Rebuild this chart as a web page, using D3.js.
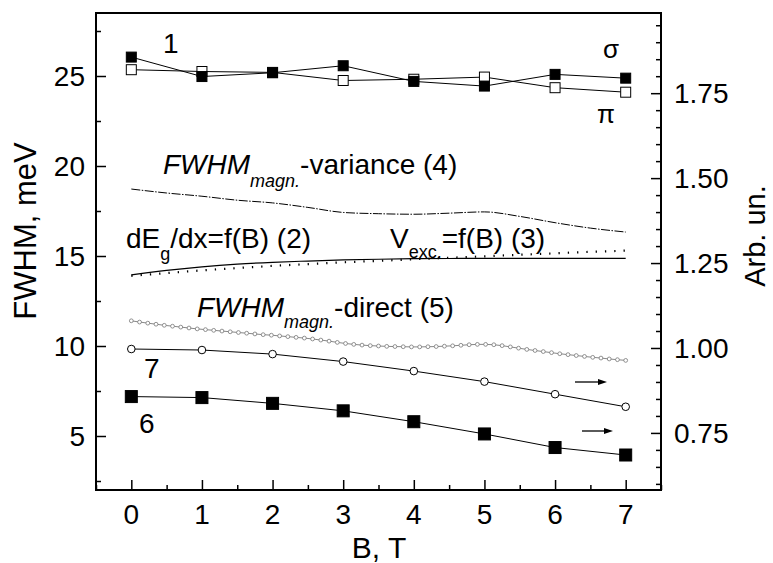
<!DOCTYPE html>
<html><head><meta charset="utf-8">
<script src="https://cdn.jsdelivr.net/npm/d3@7"></script>
<style>
body{margin:0;background:#fff;}
svg text{font-family:"Liberation Sans",Arial,sans-serif;fill:#000;}
</style></head>
<body><svg id="c" width="773" height="563"></svg>
<script>
// ---- data ----
const B = [0,1,2,3,4,5,6,7];
const sigma1 = [26.05,24.97,25.18,25.57,24.70,24.44,25.09,24.88];
const pi1    = [25.35,25.25,25.20,24.75,24.82,24.94,24.35,24.10];
const s7 = [0.997,0.994,0.982,0.960,0.932,0.901,0.864,0.827];   // right axis
const s6 = [0.857,0.854,0.837,0.815,0.783,0.747,0.707,0.685];   // right axis
const Bhalf = [0,0.5,1,1.5,2,2.5,3,3.5,4,4.5,5,5.5,6,6.5,7];
const s4 = [18.72,18.50,18.32,18.10,17.95,17.70,17.42,17.35,17.32,17.38,17.45,17.20,16.85,16.55,16.33];
const s2 = [13.95,14.20,14.40,14.55,14.65,14.72,14.78,14.82,14.85,14.86,14.87,14.87,14.87,14.87,14.87];
const B3 = [0,0.5,1,1.5,2,2.5,3,3.5,4,4.5,5,5.5,6,6.5,7,7.1];
const s3 = [13.90,14.05,14.20,14.33,14.45,14.55,14.65,14.73,14.82,14.90,14.98,15.07,15.15,15.23,15.30,15.32];
const s5 = [11.40,11.33,11.27,11.21,11.15,11.10,11.05,11.00,10.95,10.91,10.87,10.83,10.79,10.75,10.71,10.67,
10.63,10.60,10.56,10.52,10.48,10.44,10.39,10.33,10.27,10.20,10.14,10.09,10.05,10.02,10.00,9.98,9.97,9.96,9.95,
9.95,9.96,9.97,9.99,10.01,10.04,10.07,10.09,10.09,10.07,10.02,9.95,9.88,9.81,9.75,9.69,9.63,9.57,9.52,9.47,
9.42,9.37,9.33,9.28,9.24,9.20];
const B5 = s5.map((_,i)=>+(i*7/60).toFixed(4));
const leftTicks = [5,10,15,20,25];
const rightTicks = [0.75,1.00,1.25,1.50,1.75];
const xTicks = [0,1,2,3,4,5,6,7];

// ---- layout ----
const L=96,R=661,T=13,Bm=490;
const svg=d3.select("#c");
const x=d3.scaleLinear().domain([-0.5,7.5]).range([L,R]);
const y=d3.scaleLinear().domain([2,28.5]).range([Bm,T]);
const y2=d3.scaleLinear().domain([0.582,1.986]).range([Bm,T]);
const FS=28;

// frame
svg.append("rect").attr("x",L).attr("y",T).attr("width",R-L).attr("height",Bm-T)
  .attr("fill","none").attr("stroke","#000").attr("stroke-width",2);

// axes (ticks inside)
const gx=svg.append("g").attr("transform",`translate(0,${Bm})`)
  .call(d3.axisBottom(x).tickValues(d3.range(-0.5,7.51,0.5)).tickSize(-5).tickFormat(""));
gx.selectAll(".tick line").filter(d=>Number.isInteger(d)).attr("y2",-10);
const gy=svg.append("g").attr("transform",`translate(${L},0)`)
  .call(d3.axisLeft(y).tickValues(d3.range(2.5,28.5,2.5)).tickSize(-5).tickFormat(""));
gy.selectAll(".tick line").filter(d=>d%5===0).attr("x2",10);
const gy2=svg.append("g").attr("transform",`translate(${R},0)`)
  .call(d3.axisRight(y2).tickValues(d3.range(0.6,1.96,0.05).map(v=>+v.toFixed(2))).tickSize(-5).tickFormat(""));
gy2.selectAll(".tick line").filter(d=>Math.abs(d*4-Math.round(d*4))<1e-6).attr("x2",-10);
[gx,gy,gy2].forEach(g=>{g.select(".domain").remove();g.selectAll("line").attr("stroke","#000").attr("stroke-width",1.5);});

// tick labels
svg.selectAll(".xl").data(xTicks).enter().append("text").attr("x",d=>x(d)).attr("y",Bm+34)
  .attr("text-anchor","middle").attr("font-size",FS).text(d=>d);
svg.selectAll(".yl").data(leftTicks).enter().append("text").attr("x",L-11).attr("y",d=>y(d)+10)
  .attr("text-anchor","end").attr("font-size",FS).text(d=>d);
svg.selectAll(".y2l").data(rightTicks).enter().append("text").attr("x",R+13).attr("y",d=>y2(d)+10)
  .attr("text-anchor","start").attr("font-size",FS).text(d=>d.toFixed(2));

// axis titles
svg.append("text").attr("x",379).attr("y",558).attr("text-anchor","middle").attr("font-size",30).text("B, T");
svg.append("text").attr("transform","translate(36,231) rotate(-90)").attr("text-anchor","middle").attr("font-size",31).text("FWHM, meV");
svg.append("text").attr("transform","translate(765,236) rotate(-90)").attr("text-anchor","middle").attr("font-size",29).text("Arb. un.");

// lines
const line=(xs,ys,sy,curve)=>d3.line().x((d,i)=>x(xs[i])).y(d=>sy(d)).curve(curve||d3.curveLinear)(ys);
const path=(d,opt)=>svg.append("path").attr("d",d).attr("fill","none").attr("stroke",opt.c||"#000")
  .attr("stroke-width",opt.w||1).attr("stroke-dasharray",opt.dash||null);

path(line(B,sigma1,y),{});
path(line(B,pi1,y),{});
path(line(Bhalf,s4,y,d3.curveMonotoneX),{dash:"9,1.5,1.5,1.5"});
path(line(Bhalf,s2,y,d3.curveMonotoneX),{w:1.2});
path(line(B3,s3,y,d3.curveMonotoneX),{w:2.2,dash:"1.3,8"});
path(line(B5,s5,y),{c:"#888"});
path(line(B,s7,y2),{});
path(line(B,s6,y2),{});

// markers
svg.selectAll(".m5").data(s5).enter().append("circle").attr("cx",(d,i)=>x(B5[i])).attr("cy",d=>y(d))
  .attr("r",1.9).attr("fill","#fff").attr("stroke","#777").attr("stroke-width",0.8);
svg.selectAll(".m7").data(s7).enter().append("circle").attr("cx",(d,i)=>x(B[i])).attr("cy",d=>y2(d))
  .attr("r",3.8).attr("fill","#fff").attr("stroke","#000").attr("stroke-width",1);
const sq=(data,sy,size,fill)=>svg.append("g").selectAll("rect").data(data).enter().append("rect")
  .attr("x",(d,i)=>x(B[i])-size/2).attr("y",d=>sy(d)-size/2).attr("width",size).attr("height",size)
  .attr("fill",fill).attr("stroke","#000").attr("stroke-width",1);
sq(pi1,y,10,"#fff");
sq(sigma1,y,10,"#000");
sq(s6,y2,12,"#000");

// arrows
const arrow=(x1,x2,yy)=>{
  svg.append("line").attr("x1",x1).attr("x2",x2-6).attr("y1",yy).attr("y2",yy).attr("stroke","#000").attr("stroke-width",1.3);
  svg.append("path").attr("d",`M${x2},${yy} L${x2-9},${yy-3} L${x2-9},${yy+3} Z`).attr("fill","#000");
};
arrow(575,607,382);
arrow(582,613,431);

// annotations
const ann=(xx,yy,parts)=>{
  const t=svg.append("text").attr("x",xx).attr("y",yy).attr("font-size",FS);
  parts.forEach(p=>{const s=t.append("tspan").text(p.t);
    if(p.it)s.attr("font-style","italic"); if(p.fs)s.attr("font-size",p.fs); if(p.dy)s.attr("dy",p.dy);});
};
ann(163,53,[{t:"1"}]);
svg.append("text").attr("x",603).attr("y",58).attr("font-family","Liberation Serif, serif").attr("font-size",26).text("σ");
svg.append("text").attr("x",597).attr("y",123).attr("font-family","Liberation Serif, serif").attr("font-size",26).text("π");
ann(163,174,[{t:"FWHM",it:1},{t:"magn.",it:1,fs:18,dy:13},{t:"-variance (4)",dy:-13}]);
ann(126,248,[{t:"dE"},{t:"g",fs:18,dy:12},{t:"/dx=f(B) (2)",dy:-12}]);
ann(390,248,[{t:"V"},{t:"exc.",fs:18,dy:10},{t:"=f(B) (3)",dy:-10}]);
ann(197,317,[{t:"FWHM",it:1},{t:"magn.",it:1,fs:18,dy:11},{t:"-direct (5)",dy:-11}]);
ann(144,378,[{t:"7"}]);
ann(139,433,[{t:"6"}]);
</script></body></html>
